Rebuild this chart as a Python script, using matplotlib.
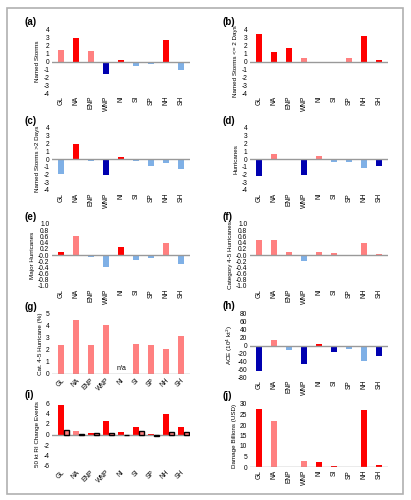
import matplotlib
matplotlib.use('Agg')
import matplotlib.pyplot as plt
from matplotlib.patches import Rectangle
import numpy as np

plt.rcParams['font.family'] = ['Liberation Sans', 'DejaVu Sans']

basins = ['GL', 'NA', 'ENP', 'WNP', 'NI', 'SI', 'SP', 'NH', 'SH']

# values per panel, significance code: R = significant +, r = not sig +, B = significant -, b = not sig -
named_storms = [1.5, 3.0, 1.3, -1.6, 0.2, -0.6, -0.3, 2.7, -1.1]
named_storms_sig = ['r', 'R', 'r', 'B', 'R', 'b', 'b', 'R', 'b']
short_storms = [3.5, 1.2, 1.7, 0.5, 0.0, -0.2, 0.5, 3.3, 0.2]
short_storms_sig = ['R', 'R', 'R', 'r', 'r', 'B', 'r', 'R', 'R']
long_storms = [-1.9, 1.9, -0.3, -2.1, 0.2, -0.3, -0.9, -0.5, -1.3]
long_storms_sig = ['b', 'R', 'b', 'B', 'R', 'b', 'b', 'b', 'b']
hurricanes = [-2.2, 0.6, -0.1, -2.0, 0.4, -0.4, -0.4, -1.2, -0.9]
hurricanes_sig = ['B', 'r', 'b', 'B', 'r', 'b', 'b', 'b', 'B']
major_hurr = [0.1, 0.6, -0.07, -0.38, 0.27, -0.15, -0.1, 0.4, -0.3]
major_hurr_sig = ['R', 'r', 'b', 'b', 'R', 'b', 'b', 'r', 'b']
cat45 = [0.5, 0.5, 0.1, -0.18, 0.1, 0.05, 0.0, 0.4, 0.02]
cat45_sig = ['r', 'r', 'r', 'b', 'r', 'r', 'r', 'r', 'r']
cat45_pct = [2.4, 4.5, 2.4, 4.1, np.nan, 2.5, 2.4, 2.1, 3.2]
cat45_pct_sig = ['r'] * 9
ace = [-64, 15, -11, -47, 4, -16, -8, -40, -26]
ace_sig = ['B', 'r', 'b', 'B', 'R', 'B', 'b', 'b', 'B']
ri_events = [5.6, 0.6, 0.3, 2.5, 0.5, 1.4, 0.1, 4.0, 1.5]
ri_events_sig = ['R', 'r', 'R', 'R', 'R', 'R', 'R', 'R', 'R']
ri_events_obs = [0.9, 0.1, 0.2, 0.2, 0.0, 0.6, -0.3, 0.5, 0.4]
damage = [27.5, 22.0, 0.0, 3.0, 2.6, 0.4, 0.2, 27.0, 0.8]
damage_sig = ['R', 'r', 'r', 'r', 'R', 'R', 'r', 'R', 'R']

colors = {'R': '#ff0000', 'r': '#ff8080', 'B': '#0000b0', 'b': '#7fb0e6'}

W, H = 411, 500
fig = plt.figure(figsize=(W / 100, H / 100), dpi=100)
fig.patches.append(Rectangle((7 / W, 6 / H), 396 / W, 486 / H, transform=fig.transFigure,
                             fill=False, edgecolor='#b0b0b0', linewidth=1.2))


def make_ax(left, top, bottom):
    return fig.add_axes([left / W, 1 - bottom / H, 138 / W, (bottom - top) / H])


def panel(ax, vals, sig, ylim, step, ylabel, label, rot=90, fmt='%d', width=0.35):
    x = np.arange(len(basins))
    ax.bar(x, np.nan_to_num(vals), width=width, color=[colors[s] for s in sig], zorder=2)
    ax.axhline(0, color='#999999', linewidth=1, zorder=3)
    ax.set_ylim(*ylim)
    ax.set_xlim(-0.6, len(basins) - 0.4)
    ticks = np.arange(ylim[0], ylim[1] + step / 2, step)
    ax.set_yticks(ticks)
    ax.set_yticklabels([fmt % t for t in ticks], fontsize=4.8)
    ax.set_xticks(x)
    if rot == 45:
        ax.set_xticklabels(basins, fontsize=4.8, rotation=45, ha='right', rotation_mode='anchor')
    else:
        ax.set_xticklabels(basins, fontsize=4.8, rotation=90)
    ax.tick_params(length=0, pad=2)
    for s in ax.spines.values():
        s.set_visible(False)
    ax.set_ylabel(ylabel, fontsize=4.5, labelpad=2)
    ax.text(-0.2, 1.04, label, transform=ax.transAxes, fontsize=7, fontweight='bold',
            ha='left', va='bottom')


L, R = 52, 250
ax = make_ax(L, 30, 93)
panel(ax, named_storms, named_storms_sig, (-4, 4), 1, 'Named Storms', '(a)')
ax = make_ax(R, 30, 93)
panel(ax, short_storms, short_storms_sig, (-4, 4), 1, 'Named Storms <= 2 Days', '(b)')
ax = make_ax(L, 128, 190)
panel(ax, long_storms, long_storms_sig, (-4, 4), 1, 'Named Storms >2 Days', '(c)')
ax = make_ax(R, 128, 190)
panel(ax, hurricanes, hurricanes_sig, (-4, 4), 1, 'Hurricanes', '(d)')
ax = make_ax(L, 224, 286)
panel(ax, major_hurr, major_hurr_sig, (-1, 1), 0.2, 'Major Hurricanes', '(e)', fmt='%.1f')
ax = make_ax(R, 224, 286)
panel(ax, cat45, cat45_sig, (-1, 1), 0.2, 'Category 4-5 Hurricanes', '(f)', fmt='%.1f')
ax = make_ax(L, 314, 374)
panel(ax, cat45_pct, cat45_pct_sig, (0, 5), 1, 'Cat. 4-5 Hurricane (%)', '(g)', rot=45)
ax.text(4, 0.15, 'n/a', ha='center', va='bottom', fontsize=5)
ax = make_ax(R, 314, 377)
panel(ax, ace, ace_sig, (-80, 80), 20, 'ACE (10$^4$ kt$^2$)', '(h)')
ax = make_ax(L, 403, 466)
panel(ax, ri_events, ri_events_sig, (-6, 6), 2, '50 kt RI Change Events', '(i)', rot=45,
      width=0.38)
ax.bar(np.arange(len(basins)) + 0.36, ri_events_obs, width=0.3, color='#ff8080',
       edgecolor='black', linewidth=1, zorder=4)
ax = make_ax(R, 404, 467)
panel(ax, damage, damage_sig, (0, 30), 5, 'Damage Billions (USD)', '(j)')

fig.savefig('out.png', dpi=100)
